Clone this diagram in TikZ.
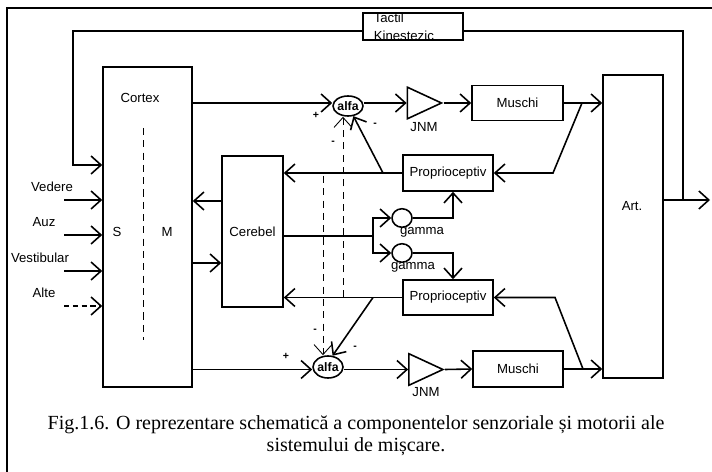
\documentclass[tikz,border=0pt]{standalone}
\usepackage{fontspec}
\setmainfont{Liberation Serif}
\setsansfont{Liberation Sans}
\usetikzlibrary{arrows.meta,positioning,calc,shapes.geometric}
\tikzset{
  arr/.style={-{Straight Barb[length=2mm,width=3.6mm]}},
  blk/.style={draw, rectangle, inner sep=0pt, font=\sffamily\fontsize{7.5}{8.5}\selectfont},
  sum/.style={draw, ellipse, inner sep=0pt, minimum width=0.56cm, minimum height=0.4cm,
              font=\sffamily\bfseries\fontsize{7}{8}\selectfont},
  amp/.style={draw, isosceles triangle, isosceles triangle stretches, inner sep=0pt,
              minimum width=0.63cm, minimum height=0.68cm},
  gam/.style={draw, ellipse, inner sep=0pt, minimum width=0.4cm, minimum height=0.37cm},
  lbl/.style={font=\sffamily\fontsize{7.5}{8.5}\selectfont, inner sep=0pt},
  sgn/.style={font=\sffamily\bfseries\fontsize{6}{7}\selectfont, inner sep=0pt},
  fdash/.style={dash pattern=on 4pt off 3pt, line width=0.5pt},
  capt/.style={font=\fontsize{11.4}{12.4}\selectfont, align=center, inner sep=0pt},
}

\begin{document}
\begin{tikzpicture}[x=0.02cm, y=-0.02cm, line width=0.9pt]
  \useasboundingbox (0,0) rectangle (712,472);
  \draw (712,8) -- (7,8) -- (7,472);
  % blocks
  \node[blk, minimum width=1.78cm, minimum height=6.4cm] (cortex) at (147.5,227) {};
  \node[lbl] (cortexTxt) at (140,98) {Cortex};
  \node[lbl] (sTxt) at (117,232) {S};
  \node[lbl] (mTxt) at (167,232) {M};
  \draw[fdash] (143,128) -- (143,340);
  \node[blk, minimum width=1.22cm, minimum height=3.02cm] (cerebel) at (252.5,231.5) {Cerebel};
  \node[blk, minimum width=1.2cm, minimum height=6.06cm] (art) at (633,226.5) {};
  \node[lbl] (artTxt) at (632,206) {Art.};
  \node[blk, minimum width=2cm, minimum height=0.54cm] (tactil) at (413,26.5) {};
  \node[lbl, align=left, anchor=north west, font=\sffamily\fontsize{7.5}{10}\selectfont]
    (tactilTxt) at (373,12.5) {Tactil\\Kinestezic};
  \node[blk, minimum width=1.82cm, minimum height=0.7cm] (muschiT) at (517.5,103) {Muschi};
  \node[blk, minimum width=1.8cm, minimum height=0.72cm] (muschiB) at (518,369) {Muschi};
  \node[blk, minimum width=1.8cm, minimum height=0.72cm] (propT) at (448,173) {Proprioceptiv};
  \node[blk, minimum width=1.8cm, minimum height=0.7cm] (propB) at (448,297.5) {Proprioceptiv};
  \node[sum] (alfaT) at (348,106) {alfa};
  \node[sum, minimum width=0.6cm, minimum height=0.44cm] (alfaB) at (328,367) {alfa};
  \node[amp] (jnmT) at (417.5,103) {};
  \node[amp] (jnmB) at (419,369.5) {};
  \node[lbl] (jnmTTxt) at (424,127) {JNM};
  \node[lbl] (jnmBTxt) at (426,392) {JNM};
  \node[gam] (gammaT) at (402,218) {};
  \node[gam] (gammaB) at (402,253) {};
  \node[lbl] (gammaTTxt) at (422,232) {gamma};
  \node[lbl] (gammaBTxt) at (413,267) {gamma};
  % signs
  \node[sgn] (pT) at (316,115) {+};
  \node[sgn] (mT1) at (333,143) {-};
  \node[sgn] (mT2) at (375,125) {-};
  \node[sgn] (pB) at (286,356) {+};
  \node[sgn] (mB1) at (315,331) {-};
  \node[sgn] (mB2) at (355,348) {-};
  % inputs
  \foreach \yy/\nm/\tx/\xx in {200/ved/Vedere/52,235/auz/Auz/44,271/ves/Vestibular/40}{
    \coordinate (\nm) at (64,\yy);
    \node[lbl] (\nm Txt) at (\xx,\yy-13) {\tx};
    \draw[arr] (\nm) -- (\nm -| cortex.west);
  }
  \coordinate (alt) at (64,306);
  \node[lbl] (altTxt) at (44,293) {Alte};
  \draw[arr, dashed, dash pattern=on 3pt off 2pt] (alt) -- (alt -| cortex.west);
  % long loop through Tactil
  \coordinate (fbR) at (683,200);
  \coordinate (fbTR) at (683,31);
  \coordinate (fbTL) at (73,31);
  \coordinate (fbL) at (73,165);
  \coordinate (out) at (710,200);
  \draw[arr] (fbR -| art.east) -- (out);
  \draw (fbR) -- (fbTR) -- (fbTR -| tactil.east);
  \draw[arr] (fbTL -| tactil.west) -- (fbTL) -- (fbL) -- (fbL -| cortex.west);
  % cortex - cerebel
  \draw[arr] ([yshift=0.61cm]cerebel.west) -- ([yshift=0.61cm]cerebel.west -| cortex.east);
  \draw[arr] ([yshift=-0.63cm]cerebel.west -| cortex.east) -- ([yshift=-0.63cm]cerebel.west);
  % upper chain
  \draw[arr] (jnmT.west -| cortex.east) -- (jnmT.west -| alfaT.west);
  \draw[arr] (jnmT.west -| alfaT.east) -- (jnmT.lower side);
  \draw[arr] (jnmT.apex) -- (muschiT.west);
  \draw[arr] (muschiT.east) -- (muschiT.east -| art.west);
  \coordinate (ftA) at (582,103);
  \coordinate (ftB) at (553,173);
  \coordinate (ftC) at (383,173);
  \draw[arr] (ftA) -- (ftB) -- (propT.east);
  \draw[arr] (propT.west) -- (propT.west -| cerebel.east);
  \draw[arr] (ftC) -- (alfaT.-62);
  \coordinate (dT) at (343,297);
  \draw[arr, fdash] (dT) -- (dT |- alfaT.south);
  % lower chain
  \draw[arr] (jnmB.west -| cortex.east) -- (jnmB.west -| alfaB.west);
  \draw[arr] (jnmB.west -| alfaB.east) -- (jnmB.lower side);
  \draw[arr] (jnmB.apex) -- (muschiB.west);
  \draw[arr] (muschiB.east) -- (muschiB.east -| art.west);
  \coordinate (fbA) at (583,369);
  \coordinate (fbB) at (555,297.5);
  \coordinate (fbC) at (373,297.5);
  \draw[arr] (fbA) -- (fbB) -- (propB.east);
  \draw[arr] (propB.west) -- (propB.west -| cerebel.east);
  \draw[arr] (fbC) -- (alfaB.68);
  \coordinate (dB) at (323,176);
  \draw[arr, fdash] (dB) -- (dB |- alfaB.north);
  % gamma branch
  \coordinate (gBr) at (373,236);
  \draw (gBr -| cerebel.east) -- (gBr);
  \draw[arr] (gBr) |- (gammaT.west);
  \draw[arr] (gBr) |- (gammaB.west);
  \draw[arr] (gammaT.east) -| ([xshift=0.1cm]propT.south);
  \draw[arr] (gammaB.east) -| ([xshift=0.1cm]propB.north);
  % caption
  \node[capt] (cap) at (356,436) {Fig.1.6. O reprezentare schematică a componentelor senzoriale și motorii ale\\sistemului de mișcare.};
\end{tikzpicture}
\end{document}
